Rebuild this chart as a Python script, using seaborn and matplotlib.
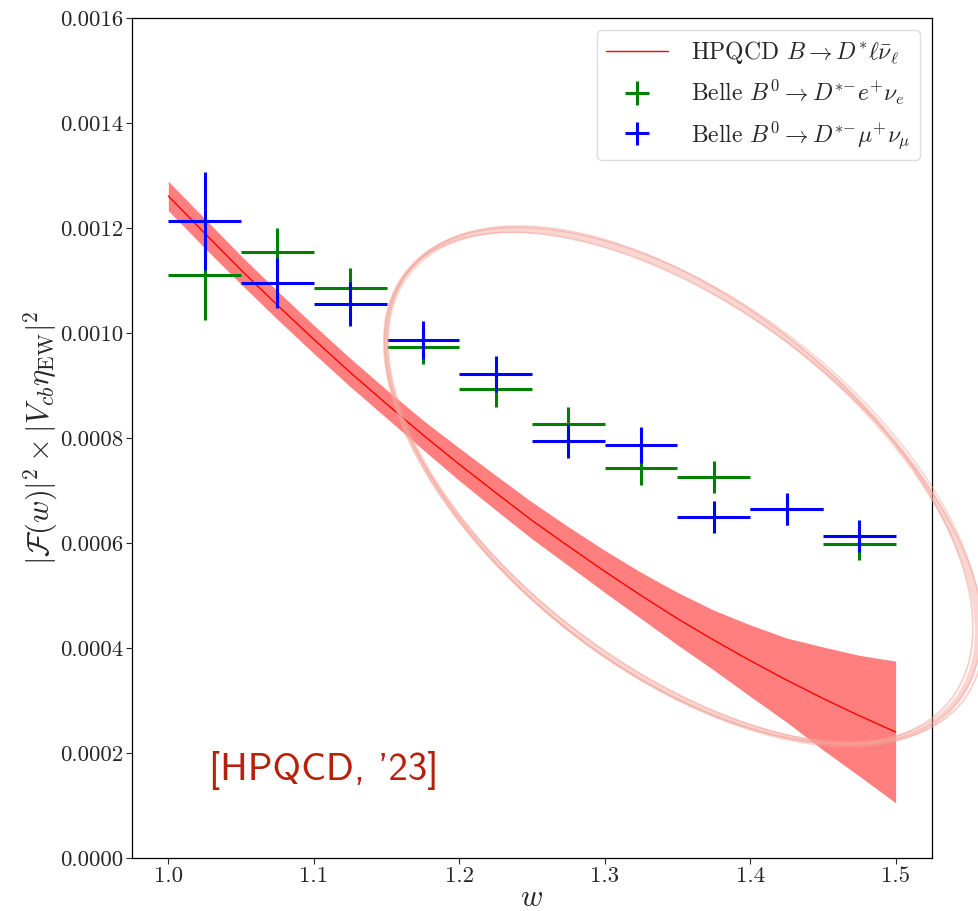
import numpy as np
import pandas as pd
import seaborn as sns
import matplotlib
matplotlib.use("Agg")
import matplotlib.pyplot as plt
from matplotlib.patches import Ellipse
from matplotlib.transforms import IdentityTransform
from matplotlib.ticker import StrMethodFormatter, FixedLocator

# ---------------- data ----------------
w_bins = [1.025, 1.075, 1.125, 1.175, 1.225, 1.275, 1.325, 1.375, 1.425, 1.475]
w_halfwidth = [0.025] * 10

belle_e = [1.110e-3, 1.154e-3, 1.086e-3, 0.973e-3, 0.893e-3, 0.827e-3, 0.743e-3, 0.726e-3, 0.664e-3, 0.598e-3]
belle_e_err = [0.086e-3, 0.046e-3, 0.038e-3, 0.032e-3, 0.034e-3, 0.032e-3, 0.032e-3, 0.030e-3, 0.030e-3, 0.030e-3]

belle_mu = [1.213e-3, 1.095e-3, 1.055e-3, 0.987e-3, 0.922e-3, 0.794e-3, 0.787e-3, 0.650e-3, 0.665e-3, 0.613e-3]
belle_mu_err = [0.093e-3, 0.048e-3, 0.042e-3, 0.036e-3, 0.034e-3, 0.032e-3, 0.034e-3, 0.030e-3, 0.030e-3, 0.030e-3]

hpqcd_w = [1.000, 1.025, 1.050, 1.075, 1.100, 1.125, 1.150, 1.175, 1.200, 1.225, 1.250,
           1.275, 1.300, 1.325, 1.350, 1.375, 1.400, 1.425, 1.450, 1.475, 1.500]
hpqcd_central = [1.261e-3, 1.190e-3, 1.120e-3, 1.053e-3, 0.988e-3, 0.925e-3, 0.865e-3,
                 0.806e-3, 0.750e-3, 0.696e-3, 0.643e-3, 0.594e-3, 0.546e-3, 0.500e-3,
                 0.456e-3, 0.415e-3, 0.376e-3, 0.339e-3, 0.304e-3, 0.271e-3, 0.240e-3]
hpqcd_err = [0.028e-3, 0.028e-3, 0.027e-3, 0.027e-3, 0.027e-3, 0.027e-3, 0.027e-3,
             0.028e-3, 0.031e-3, 0.033e-3, 0.035e-3, 0.037e-3, 0.040e-3, 0.044e-3,
             0.050e-3, 0.057e-3, 0.068e-3, 0.080e-3, 0.098e-3, 0.115e-3, 0.135e-3]

x_ticks = [1.0, 1.1, 1.2, 1.3, 1.4, 1.5]
y_ticks = [0.0, 0.0002, 0.0004, 0.0006, 0.0008, 0.0010, 0.0012, 0.0014, 0.0016]

label_hpqcd = r"HPQCD $B \to D^{*}\ell\bar{\nu}_{\ell}$"
label_e = r"Belle $B^0 \to D^{*{-}}e^{+}\nu_{e}$"
label_mu = r"Belle $B^0 \to D^{*{-}}\mu^{+}\nu_{\mu}$"
annotation = "[HPQCD, '23]"

# ---------------- style ----------------
sns.set_style("ticks")
plt.rcParams["font.family"] = "serif"
plt.rcParams["font.serif"] = ["cmr10"]
plt.rcParams["mathtext.fontset"] = "cm"
plt.rcParams["axes.unicode_minus"] = False
plt.rcParams["axes.formatter.use_mathtext"] = True

fig = plt.figure(figsize=(9.79, 9.11), dpi=100)
ax = fig.add_axes([0.1348, 0.0582, 0.8172, 0.9220])

band = pd.DataFrame({"w": hpqcd_w, "c": hpqcd_central, "e": hpqcd_err})
ax.fill_between(band["w"], band["c"] - band["e"], band["c"] + band["e"],
                color="red", alpha=0.5, lw=0)
sns.lineplot(data=band, x="w", y="c", ax=ax, color="red", lw=1.0, label=label_hpqcd)

ax.errorbar(w_bins, belle_e, xerr=w_halfwidth, yerr=belle_e_err, fmt="none",
            ecolor="green", elinewidth=2.2, capsize=0, label=label_e)
ax.errorbar(w_bins, belle_mu, xerr=w_halfwidth, yerr=belle_mu_err, fmt="none",
            ecolor="blue", elinewidth=2.2, capsize=0, label=label_mu)

ax.set_xlim(0.975, 1.525)
ax.set_ylim(0.0, 0.0016)
ax.xaxis.set_major_locator(FixedLocator(x_ticks))
ax.yaxis.set_major_locator(FixedLocator(y_ticks))
ax.yaxis.set_major_formatter(StrMethodFormatter("{x:.4f}"))
ax.xaxis.set_major_formatter(StrMethodFormatter("{x:.1f}"))
ax.tick_params(axis="both", labelsize=16.5, direction="out", length=4, width=0.8, pad=2)

for s in ax.spines.values():
    s.set_color("black")
    s.set_linewidth(0.9)

ax.set_xlabel(r"$w$", fontsize=22, labelpad=-1)
ax.set_ylabel(r"$|\mathcal{F}(w)|^2 \times |V_{cb}\eta_{\mathrm{EW}}|^2$", fontsize=22, labelpad=0)

leg = ax.legend(loc="upper right", fontsize=17, handlelength=2.6, handletextpad=1.0,
                frameon=True, fancybox=True, framealpha=0.8, edgecolor="#d5d5d5",
                borderaxespad=0.5, labelspacing=0.5)

ax.text(1.028, 0.000149, annotation, fontsize=28, color="#b8200e",
        family="cmss10", ha="left", va="baseline")

# hand-drawn highlight ellipse (pixel coordinates)
for dx, dy, dw, dh, da, lw, al in [(0, 0, 0, 0, 0, 4.5, 0.45),
                                   (2, -1, 6, -5, 0.7, 1.2, 0.55),
                                   (-2, 2, -5, 4, -0.7, 1.2, 0.55),
                                   (1, 1, 2, 6, 0.3, 1.0, 0.5)]:
    e = Ellipse((682 + dx, 424 + dy), 696 + dw, 362 + dh, angle=-38 + da,
                transform=IdentityTransform(), fill=False, ec="#f3a49b",
                lw=lw, alpha=al, clip_on=False)
    fig.add_artist(e)

fig.savefig("out.png", dpi=100)
